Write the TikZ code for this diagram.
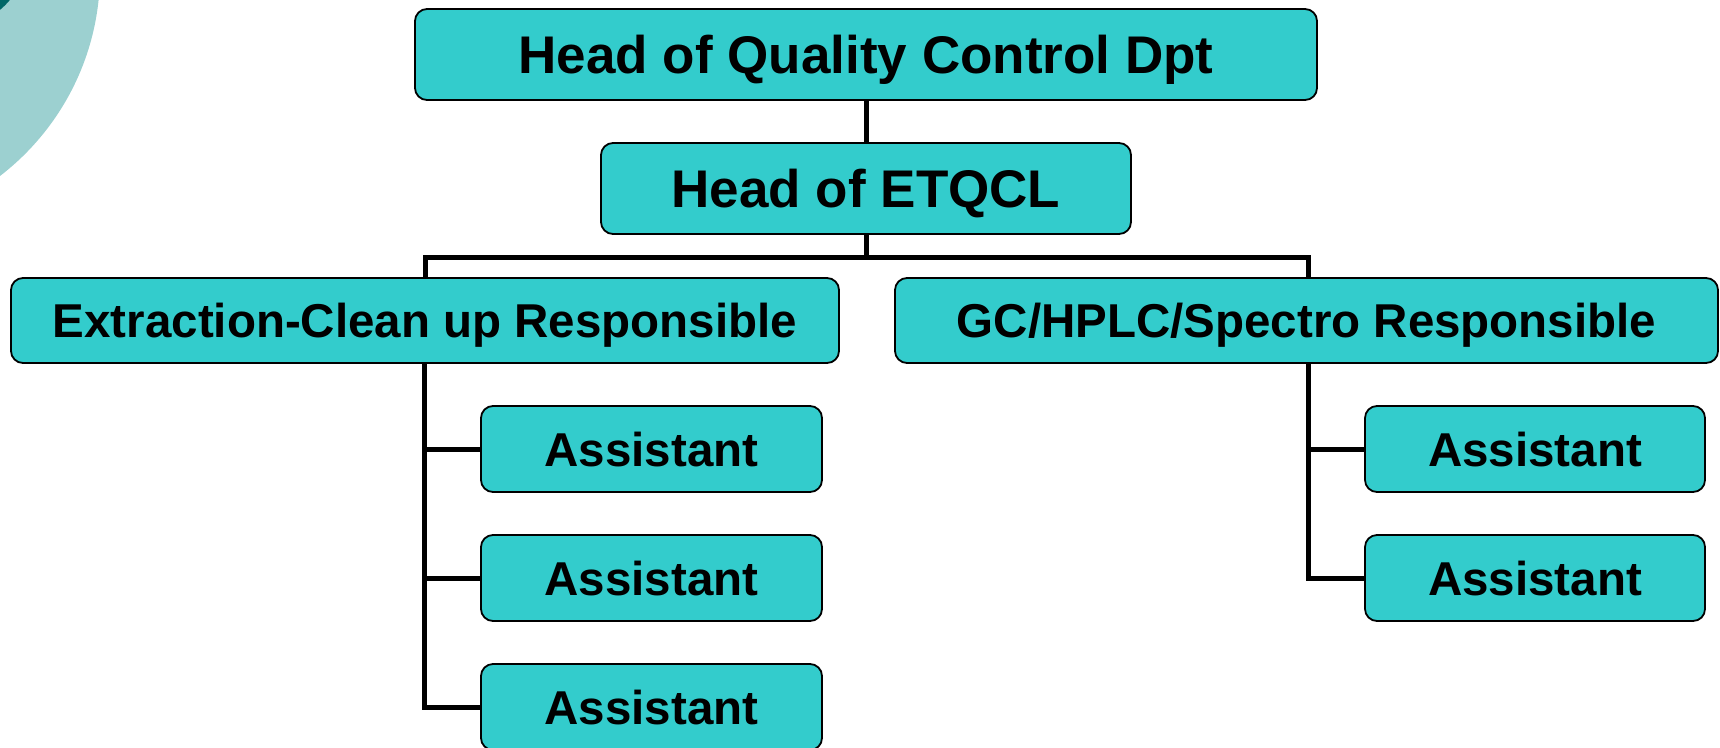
\documentclass[tikz,border=0pt]{standalone}
\usepackage{fontspec}
\setmainfont{Liberation Sans}
\definecolor{boxfill}{HTML}{33CCCC}
\definecolor{lightteal}{HTML}{9CD0D0}
\definecolor{darkteal}{HTML}{006767}
\begin{document}
\begin{tikzpicture}[x=1pt,y=-1pt,
  orgbox/.style={draw=black, line width=1.8pt, fill=boxfill, rounded corners=12pt,
    inner sep=0pt, text depth=0pt},
  bigtext/.style={font=\fontsize{53}{60}\selectfont\bfseries, text height=38pt},
  smalltext/.style={font=\fontsize{47.5}{55}\selectfont\bfseries, text height=34pt},
  link/.style={draw=black, line width=5pt, line join=miter}]
\useasboundingbox (0,0) rectangle (1720,747);
\clip (0,0) rectangle (1720,747);
\fill[lightteal] (-156,-27) circle (256pt);
\fill[darkteal] (-50,-50) circle (78pt);
\node[orgbox, bigtext, minimum width=902pt, minimum height=91pt] (top) at (866,54.5) {Head of Quality Control Dpt};
\node[orgbox, bigtext, minimum width=530pt, minimum height=91pt] (etqcl) at (866,188.5) {Head of ETQCL};
\node[orgbox, smalltext, minimum width=828pt, minimum height=85pt] (ext) at (425,320.5) {Extraction-Clean up Responsible};
\node[orgbox, smalltext, minimum width=823pt, minimum height=85pt] (gc) at (1306.5,320.5) {GC/HPLC/Spectro Responsible};
\node[orgbox, smalltext, minimum width=341pt, minimum height=86pt] (la1) at (651.5,449) {Assistant};
\node[orgbox, smalltext, minimum width=341pt, minimum height=86pt] (la2) at (651.5,578) {Assistant};
\node[orgbox, smalltext, minimum width=341pt, minimum height=86pt] (la3) at (651.5,707) {Assistant};
\node[orgbox, smalltext, minimum width=340pt, minimum height=86pt] (ra1) at (1535,449) {Assistant};
\node[orgbox, smalltext, minimum width=340pt, minimum height=86pt] (ra2) at (1535,578) {Assistant};
\coordinate (split) at (866,257);
\coordinate (lj1) at (424,449);
\coordinate (lj2) at (424,578);
\coordinate (lj3) at (424,707);
\coordinate (rj1) at (1308,449);
\coordinate (rj2) at (1308,578);
\draw[link] (top.south) -- (etqcl.north);
\draw[link] (etqcl.south) -- (split) -- (split -| ext.north) -- (ext.north);
\draw[link] (split) -- (1308,257) -- (1308,278.5);
\draw[link] (ext.south -| lj1) -- (lj1) -- (la1.west);
\draw[link] (lj1) -- (lj2) -- (la2.west);
\draw[link] (lj2) -- (lj3) -- (la3.west);
\draw[link] (gc.south -| rj1) -- (rj1) -- (ra1.west);
\draw[link] (rj1) -- (rj2) -- (ra2.west);
\end{tikzpicture}
\end{document}
